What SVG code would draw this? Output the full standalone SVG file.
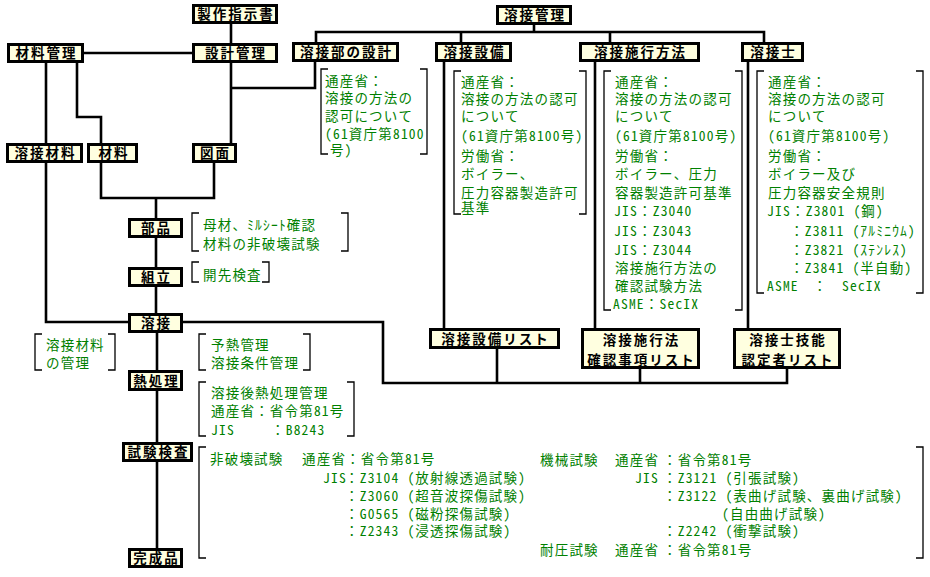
<svg xmlns="http://www.w3.org/2000/svg" width="930" height="577" viewBox="0 0 930 577">
<style>
.bx rect{fill:#FFFFE0;stroke:#000;stroke-width:3}
.bx text{font-family:'Noto Sans Mono CJK JP','Noto Sans CJK JP',sans-serif;font-size:13.5px;font-weight:bold;letter-spacing:2px;text-anchor:middle;fill:#000}
.ln path{fill:none;stroke:#000;stroke-width:2.6}
.br path{fill:none;stroke:#000;stroke-width:1.3}
.nt text{font-family:'Noto Sans Mono CJK JP','Noto Sans CJK JP',sans-serif;font-size:13.5px;letter-spacing:1.2px;fill:#008000}
</style>
<rect width="930" height="577" fill="#fff"/>
<g id="connectors" class="ln">
<path d="M231,24V43"/>
<path d="M84,53H192"/>
<path d="M46,63V143"/>
<path d="M77,63V117H101V143"/>
<path d="M231,63V143"/>
<path d="M231,88H315V62"/>
<path d="M46,163V322H128"/>
<path d="M101,163V198H214V163"/>
<path d="M156,198V218"/>
<path d="M156,238V267"/>
<path d="M156,287V313"/>
<path d="M183,322H383V383H787V369"/>
<path d="M497,383V349"/>
<path d="M640,383V369"/>
<path d="M157,333V370"/>
<path d="M157,391V442"/>
<path d="M157,462V548"/>
<path d="M534,25V32"/>
<path d="M316,42V32H764V42"/>
<path d="M461,32V42"/>
<path d="M610,32V42"/>
<path d="M444,62V328"/>
<path d="M595,62V328"/>
<path d="M748,62V328"/>
</g>
<g id="n1" class="bx"><rect x="193.5" y="5.5" width="83" height="17"/><text x="236" y="19">製作指示書</text></g>
<g id="n2" class="bx"><rect x="8.5" y="44.5" width="74" height="17"/><text x="46.5" y="58">材料管理</text></g>
<g id="n3" class="bx"><rect x="193.5" y="44.5" width="83" height="17"/><text x="236" y="58">設計管理</text></g>
<g id="n4" class="bx"><rect x="7.5" y="144.5" width="74" height="17"/><text x="45.5" y="158">溶接材料</text></g>
<g id="n5" class="bx"><rect x="88.5" y="144.5" width="48" height="17"/><text x="114" y="158">材料</text></g>
<g id="n6" class="bx"><rect x="193.5" y="144.5" width="42" height="17"/><text x="215.5" y="158">図面</text></g>
<g id="n7" class="bx"><rect x="129.5" y="219.5" width="52" height="17"/><text x="156.5" y="233">部品</text></g>
<g id="n8" class="bx"><rect x="129.5" y="268.5" width="52" height="17"/><text x="156.5" y="282">組立</text></g>
<g id="n9" class="bx"><rect x="129.5" y="314.5" width="52" height="17"/><text x="156.5" y="328">溶接</text></g>
<g id="n10" class="bx"><rect x="129.5" y="371.5" width="52" height="18"/><text x="156.5" y="385.5">熱処理</text></g>
<g id="n11" class="bx"><rect x="123.5" y="443.5" width="68" height="17"/><text x="158.5" y="457">試験検査</text></g>
<g id="n12" class="bx"><rect x="129.5" y="549.5" width="52" height="17"/><text x="156.5" y="563">完成品</text></g>
<g id="n13" class="bx"><rect x="497.5" y="6.5" width="73" height="17"/><text x="535" y="20">溶接管理</text></g>
<g id="n14" class="bx"><rect x="293.5" y="43.5" width="104" height="17"/><text x="346.5" y="57">溶接部の設計</text></g>
<g id="n15" class="bx"><rect x="436.5" y="43.5" width="74" height="17"/><text x="474.5" y="57">溶接設備</text></g>
<g id="n16" class="bx"><rect x="580.5" y="43.5" width="118" height="17"/><text x="640.5" y="57">溶接施行方法</text></g>
<g id="n17" class="bx"><rect x="742.5" y="43.5" width="60" height="17"/><text x="773.5" y="57">溶接士</text></g>
<g id="n18" class="bx"><rect x="430.5" y="329.5" width="128" height="18"/><text x="495.5" y="343.5">溶接設備リスト</text></g>
<g id="n19" class="bx"><rect x="582.5" y="329.5" width="116" height="38"/><text x="641.5" y="345">溶接施行法</text><text x="641.5" y="364.5">確認事項リスト</text></g>
<g id="n20" class="bx"><rect x="734.5" y="329.5" width="105" height="38"/><text x="788" y="345">溶接士技能</text><text x="788" y="364.5">認定者リスト</text></g>
<g id="brackets" class="br">
<path d="M328,69H321V154H328M420,69H427V154H420"/>
<path d="M461,71H454V214H461M579,71H586V214H579"/>
<path d="M611,71H604V310H611M735,71H742V310H735"/>
<path d="M764,71H757V293H764M916,71H923V293H916"/>
<path d="M199,213H192V251H199M341,213H348V251H341"/>
<path d="M199,262H192V282H199M262,262H269V282H262"/>
<path d="M42,334H35V370H42M108,334H115V370H108"/>
<path d="M206,334H199V370H206M303,334H310V370H303"/>
<path d="M206,382H199V436H206M347,382H354V436H347"/>
<path d="M206,447H199V558H206M916,447H923V558H916"/>
</g>
<g id="notes" class="nt">
<text x="325" y="85.5">通産省：</text>
<text x="325" y="103">溶接の方法の</text>
<text x="325" y="120.5">認可について</text>
<text x="325" y="138.5">(61資庁第8100</text>
<text x="330" y="154.5">号)</text>

<text x="461" y="86.5">通産省：</text>
<text x="461" y="104">溶接の方法の認可</text>
<text x="461" y="121">について</text>
<text x="461" y="140.5">(61資庁第8100号)</text>
<text x="461" y="160.5">労働省：</text>
<text x="461" y="179">ボイラー、</text>
<text x="461" y="197.5">圧力容器製造許可</text>
<text x="461" y="213">基準</text>

<text x="615" y="86.5">通産省：</text>
<text x="615" y="104">溶接の方法の認可</text>
<text x="615" y="121">について</text>
<text x="615" y="140.5">(61資庁第8100号)</text>
<text x="615" y="160.5">労働省：</text>
<text x="615" y="179">ボイラー、圧力</text>
<text x="615" y="197.5">容器製造許可基準</text>
<text y="215.5"><tspan x="614">JIS</tspan><tspan x="638">：Z3040</tspan></text>
<text y="235.5"><tspan x="614">JIS</tspan><tspan x="638">：Z3043</tspan></text>
<text y="254.5"><tspan x="614">JIS</tspan><tspan x="638">：Z3044</tspan></text>
<text x="615" y="272.5">溶接施行方法の</text>
<text x="615" y="290.5">確認試験方法</text>
<text x="613" y="308.5">ASME：SecIX</text>

<text x="768" y="86.5">通産省：</text>
<text x="768" y="104">溶接の方法の認可</text>
<text x="768" y="121">について</text>
<text x="768" y="140.5">(61資庁第8100号)</text>
<text x="768" y="160.5">労働省：</text>
<text x="768" y="179">ボイラー及び</text>
<text x="768" y="197.5">圧力容器安全規則</text>
<text y="215.5"><tspan x="767">JIS</tspan><tspan x="791">：Z3801 (鋼)</tspan></text>
<text x="790" y="235.5">：Z3811 (ｱﾙﾐﾆｳﾑ)</text>
<text x="790" y="254.5">：Z3821 (ｽﾃﾝﾚｽ)</text>
<text x="790" y="272.5">：Z3841 (半自動)</text>
<text y="290.5"><tspan x="767">ASME</tspan><tspan x="813">：</tspan><tspan x="842">SecIX</tspan></text>

<text x="203" y="229.5">母材、ﾐﾙｼｰﾄ確認</text>
<text x="203" y="249">材料の非破壊試験</text>
<text x="203" y="279.5">開先検査</text>
<text x="46" y="349.5">溶接材料</text>
<text x="46" y="367.5">の管理</text>
<text x="211" y="349.5">予熱管理</text>
<text x="211" y="367.5">溶接条件管理</text>
<text x="211" y="397.5">溶接後熱処理管理</text>
<text x="211" y="415.5">通産省：省令第81号</text>
<text y="434.5"><tspan x="211">JIS</tspan><tspan x="271">：B8243</tspan></text>

<text y="464"><tspan x="210">非破壊試験</tspan><tspan x="302">通産省：省令第81号</tspan></text>
<text y="483"><tspan x="323">JIS</tspan><tspan x="345">：Z3104 (放射線透過試験)</tspan></text>
<text x="345" y="500.5">：Z3060 (超音波探傷試験)</text>
<text x="345" y="518.5">：G0565 (磁粉探傷試験)</text>
<text x="345" y="535.5">：Z2343 (浸透探傷試験)</text>
<text y="465"><tspan x="540">機械試験</tspan><tspan x="615">通産省</tspan><tspan x="663">：省令第81号</tspan></text>
<text y="483"><tspan x="635">JIS</tspan><tspan x="663">：Z3121 (引張試験)</tspan></text>
<text x="663" y="500.5">：Z3122 (表曲げ試験、裏曲げ試験)</text>
<text x="722" y="518.5">(自由曲げ試験)</text>
<text x="663" y="535.5">：Z2242 (衝撃試験)</text>
<text y="554.5"><tspan x="540">耐圧試験</tspan><tspan x="615">通産省</tspan><tspan x="663">：省令第81号</tspan></text>
</g>
</svg>
